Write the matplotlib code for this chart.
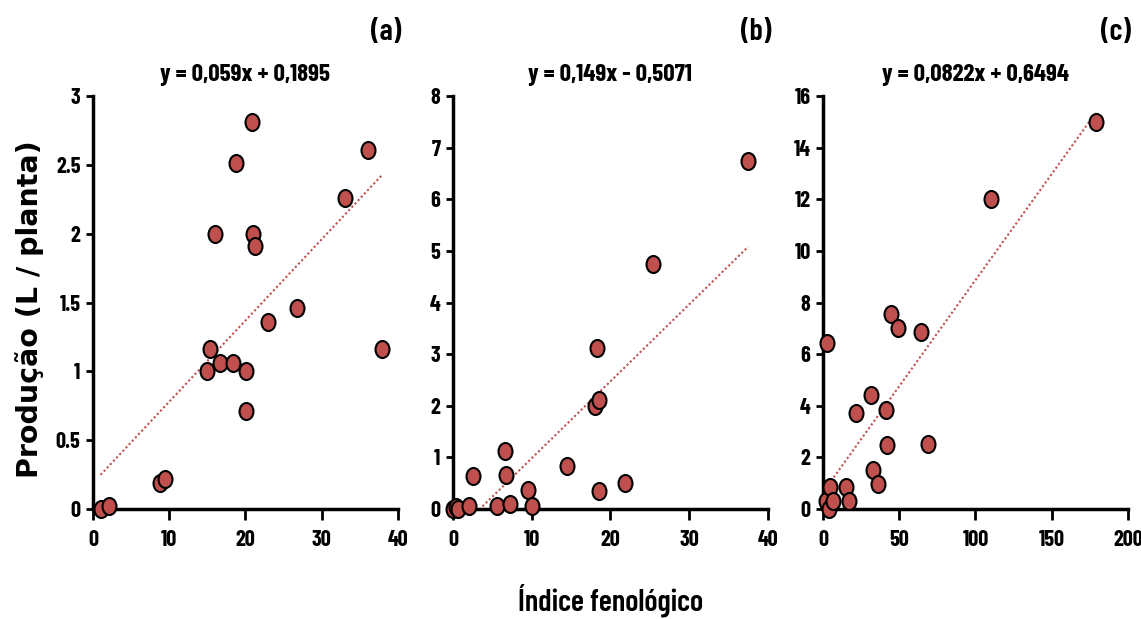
import numpy as np
import matplotlib
matplotlib.use('Agg')
import matplotlib.pyplot as plt
from matplotlib.path import Path
from matplotlib.transforms import Affine2D

# dados
xa = [1.0, 2.1, 8.8, 9.4, 14.9, 15.3, 16.7, 16.0, 18.4, 18.7, 20.1, 20.1, 20.9, 21.0, 21.3, 23.0, 26.7, 33.0, 36.1, 37.9]
ya = [0.0, 0.02, 0.19, 0.215, 1.0, 1.16, 1.06, 2.0, 1.06, 2.51, 1.0, 0.71, 2.81, 2.0, 1.91, 1.36, 1.46, 2.26, 2.61, 1.16]

xb = [0.0, 0.34, 0.6, 2.07, 2.53, 5.53, 6.63, 6.72, 7.18, 9.55, 10.0, 14.5, 18.0, 18.25, 18.5, 18.6, 21.9, 25.4, 37.5]
yb = [0.0, 0.03, 0.0, 0.06, 0.63, 0.05, 1.13, 0.66, 0.09, 0.37, 0.06, 0.83, 2.0, 3.11, 2.12, 0.34, 0.51, 4.74, 6.74]

xc = [1.75, 2.6, 4.2, 4.8, 6.6, 15.3, 16.8, 21.9, 31.5, 33.0, 36.3, 41.3, 42.2, 44.4, 49.2, 64.5, 69.1, 110.4, 179.0]
yc = [0.30, 6.43, 0.0, 0.84, 0.32, 0.84, 0.30, 3.72, 4.41, 1.52, 0.97, 3.83, 2.49, 7.54, 7.0, 6.85, 2.52, 12.0, 15.0]

# coeficientes das retas (a, b)
coef_a = (0.059, 0.1895)
coef_b = (0.149, -0.5071)
coef_c = (0.0822, 0.6494)

eq_labels = ['y = 0,059x + 0,1895', 'y = 0,149x - 0,5071', 'y = 0,0822x + 0,6494']
panel_labels = ['(a)', '(b)', '(c)']

xticks_a = [0, 10, 20, 30, 40]
yticks_a = [0, 0.5, 1, 1.5, 2, 2.5, 3]
yticklabels_a = ['0', '0.5', '1', '1.5', '2', '2.5', '3']
xticks_b = [0, 10, 20, 30, 40]
yticks_b = [0, 1, 2, 3, 4, 5, 6, 7, 8]
xticks_c = [0, 50, 100, 150, 200]
yticks_c = [0, 2, 4, 6, 8, 10, 12, 14, 16]

narrow = ['Barlow Condensed', 'Fira Sans Extra Condensed', 'Roboto Condensed',
          'Liberation Sans Narrow', 'Liberation Sans', 'DejaVu Sans']
cor = '#C0504D'

# marcador oval (imagem original achatada na horizontal)
oval = Path.unit_circle().transformed(Affine2D().scale(0.82, 1.0))

fig = plt.figure(figsize=(11.41, 6.19), dpi=100)
bottom, height = 0.1777, 0.6672
ax_a = fig.add_axes([0.0815, bottom, 0.2673, height])
ax_b = fig.add_axes([0.397, bottom, 0.276, height])
ax_c = fig.add_axes([0.7213, bottom, 0.2673, height])

dados = [
    (ax_a, xa, ya, coef_a, xticks_a, yticks_a, yticklabels_a, (0, 40), (0, 3), 0),
    (ax_b, xb, yb, coef_b, xticks_b, yticks_b, None, (0, 40), (0, 8), 1),
    (ax_c, xc, yc, coef_c, xticks_c, yticks_c, None, (0, 200), (0, 16), 2),
]

for ax, x, y, coef, xt, yt, ytl, xl, yl, i in dados:
    x = np.array(x)
    y = np.array(y)
    xs = np.array([0.0 if i == 1 else x.min(), x.max()])
    ax.plot(xs, coef[0] * xs + coef[1], linestyle=(0, (1, 1.2)), color=cor, linewidth=1.5, zorder=2)
    ax.scatter(x, y, marker=oval, s=150, facecolor=cor, edgecolor='black', linewidth=1.5,
               zorder=3, clip_on=False)
    ax.set_xlim(*xl)
    ax.set_ylim(*yl)
    ax.set_xticks(xt)
    ax.set_yticks(yt)
    if ytl is not None:
        ax.set_yticklabels(ytl)
    for s in ['top', 'right']:
        ax.spines[s].set_visible(False)
    for s in ['left', 'bottom']:
        ax.spines[s].set_linewidth(2.5)
    ax.tick_params(axis='x', width=2, length=8, direction='out', pad=7)
    ax.tick_params(axis='y', width=2, length=5, direction='out', pad=4)
    for lab in ax.get_xticklabels() + ax.get_yticklabels():
        lab.set_family(narrow)
        lab.set_fontweight('bold')
        lab.set_fontsize(16)
    ax.text(0.5, 1.05, eq_labels[i], transform=ax.transAxes, ha='center', va='center',
            family=narrow, fontweight='bold', fontsize=18)
    ax.text(1.01, 1.155, panel_labels[i], transform=ax.transAxes, ha='right',
            va='center', family=narrow, fontweight='semibold', fontsize=22)

fig.text(0.535, 0.03, 'Índice fenológico', ha='center', va='center', family=narrow,
         fontweight='semibold', fontsize=22)
fig.text(0.026, 0.5, 'Produção (L / planta)', ha='center', va='center', rotation=90,
         family='DejaVu Sans', fontweight='bold', fontsize=20.5)

fig.savefig('out.png', dpi=100)
